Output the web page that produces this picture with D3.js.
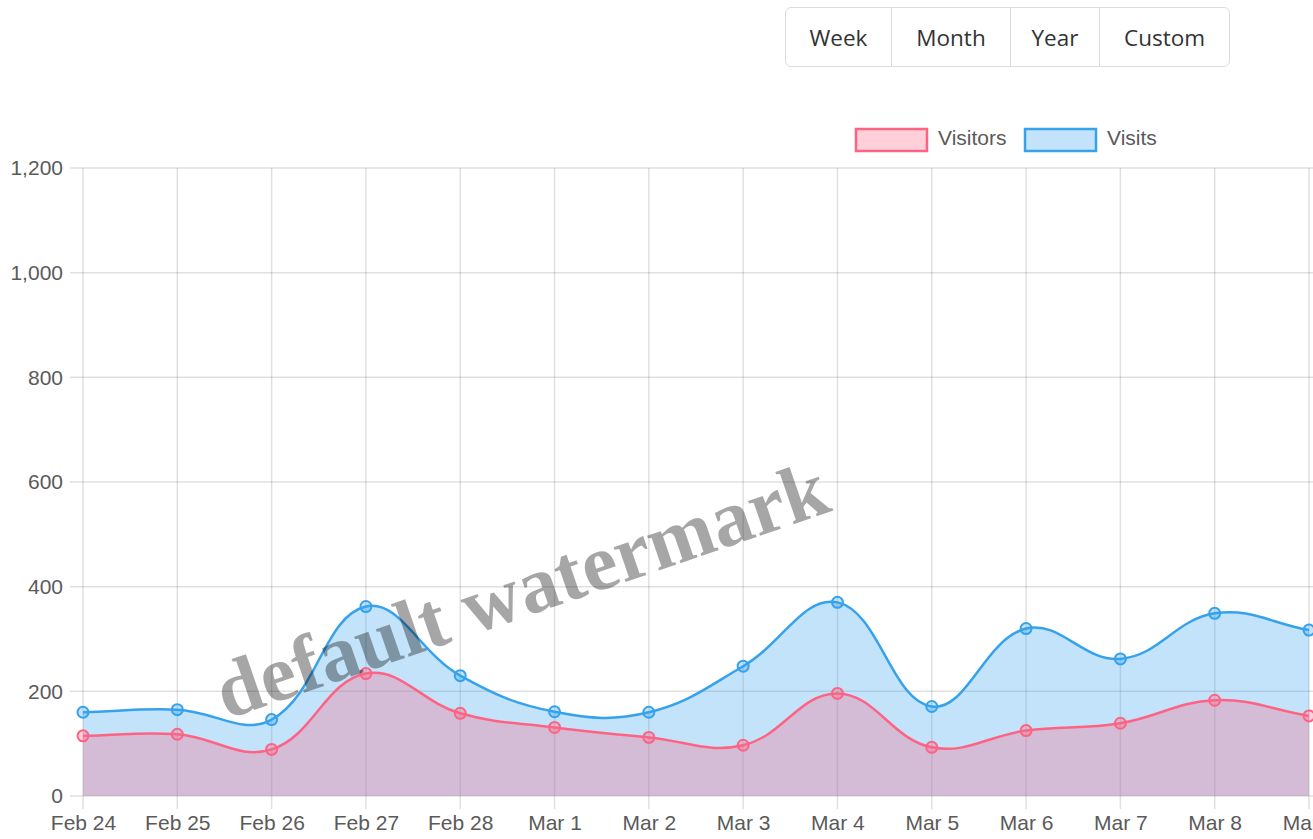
<!DOCTYPE html>
<html>
<head>
<meta charset="utf-8">
<script src="https://cdn.jsdelivr.net/npm/d3@7"></script>
<style>
  html, body { margin: 0; padding: 0; background: #fff; overflow: hidden; }
  #wrap { position: relative; width: 1313px; height: 839px; }
  svg { position: absolute; left: 0; top: 0; }
  .btn-group { position: absolute; left: 785px; top: 7px; height: 60px; display: flex;
    border: 1.5px solid #dcdcdc; border-radius: 6px; box-sizing: border-box; background: #fff; }
  .btn-group div { height: 100%; display: flex; align-items: center; justify-content: center;
    font-family: "Open Sans", "Noto Sans", sans-serif; font-size: 22.5px; color: #333;
    box-sizing: border-box; border-left: 1.5px solid #dcdcdc; }
  .btn-group div:first-child { border-left: none; }
</style>
</head>
<body>
<div id="wrap"></div>
<script>
// ---- data ----
const categories = ["Feb 24","Feb 25","Feb 26","Feb 27","Feb 28","Mar 1","Mar 2","Mar 3","Mar 4","Mar 5","Mar 6","Mar 7","Mar 8","Mar 9"];
const visitors = [115,118,89,234,158,131,112,97,196,93,125,139,183,153];
const visits   = [160,165,146,362,230,161,160,248,370,171,320,262,349,317];
const yTicks = [0,200,400,600,800,1000,1200];
const seriesNames = ["Visitors","Visits"];
const buttonLabels = ["Week","Month","Year","Custom"];
const buttonWidths = [105,119,89,130];
const watermarkText = "default watermark";

const W = 1313, H = 839;
const wrap = d3.select("#wrap");

// buttons
const bg = wrap.append("div").attr("class","btn-group");
bg.selectAll("div").data(buttonLabels).join("div")
  .style("width",(d,i)=>buttonWidths[i]+"px")
  .text(d=>d);

const svg = wrap.append("svg").attr("width",W).attr("height",H);

const x = d3.scalePoint().domain(categories).range([83, 1309]);
const y = d3.scaleLinear().domain([0,1200]).range([796, 168]);

const gridColor = "rgba(0,0,0,0.12)";
const labelColor = "#5a5a5a";
const font = "'Liberation Sans', Arial, sans-serif";

// grid
const grid = svg.append("g");
grid.selectAll("line.h").data(yTicks).join("line")
  .attr("x1",70).attr("x2",1313).attr("y1",d=>y(d)).attr("y2",d=>y(d))
  .attr("stroke",gridColor).attr("stroke-width",1.5);
grid.selectAll("line.v").data(categories).join("line")
  .attr("x1",d=>x(d)).attr("x2",d=>x(d)).attr("y1",168).attr("y2",809)
  .attr("stroke",gridColor).attr("stroke-width",1.5);

// axes labels via d3 axes
const yAxis = svg.append("g").attr("transform","translate(70,0)")
  .call(d3.axisLeft(y).tickValues(yTicks).tickSize(0).tickPadding(7).tickFormat(d3.format(",")));
yAxis.select(".domain").remove();
yAxis.selectAll("text").attr("fill",labelColor).style("font-family",font).style("font-size","21px");

const xAxis = svg.append("g").attr("transform","translate(0,809)")
  .call(d3.axisBottom(x).tickSize(0).tickPadding(6));
xAxis.select(".domain").remove();
xAxis.selectAll("text").attr("fill",labelColor).style("font-family",font).style("font-size","21px");

// Chart.js-like spline curve (tension 0.4)
function ChartJsCurve(context){ this._context = context; }
ChartJsCurve.prototype = {
  areaStart(){ this._line = 0; },
  areaEnd(){ this._line = NaN; },
  lineStart(){ this._pts = []; },
  lineEnd(){
    const p = this._pts, c = this._context, t = 0.4, n = p.length;
    if (n) {
      if (this._line) c.lineTo(p[0][0],p[0][1]); else c.moveTo(p[0][0],p[0][1]);
      const cp = p.map((pt,i)=>{
        const prev = p[i-1] || pt, next = p[i+1] || pt;
        const d01 = Math.hypot(pt[0]-prev[0], pt[1]-prev[1]);
        const d12 = Math.hypot(next[0]-pt[0], next[1]-pt[1]);
        let s01 = d01/(d01+d12), s12 = d12/(d01+d12);
        s01 = isNaN(s01)?0:s01; s12 = isNaN(s12)?0:s12;
        const fa = t*s01, fb = t*s12;
        return {
          px: pt[0]-fa*(next[0]-prev[0]), py: pt[1]-fa*(next[1]-prev[1]),
          nx: pt[0]+fb*(next[0]-prev[0]), ny: pt[1]+fb*(next[1]-prev[1])
        };
      });
      for (let i=1;i<n;i++){
        c.bezierCurveTo(cp[i-1].nx,cp[i-1].ny,cp[i].px,cp[i].py,p[i][0],p[i][1]);
      }
    }
    if (this._line || (this._line !== 0 && n === 1)) c.closePath();
    this._line = 1 - this._line;
  },
  point(px,py){ this._pts.push([+px,+py]); }
};
const chartCurve = ctx => new ChartJsCurve(ctx);

const series = [
  {name: seriesNames[1], values: visits, stroke:"rgb(54,162,235)", fill:"rgba(54,162,235,0.3)"},
  {name: seriesNames[0], values: visitors, stroke:"rgb(255,99,132)", fill:"rgba(255,99,132,0.3)"}
];

const area = d3.area().x((d,i)=>x(categories[i])).y0(y(0)).y1(d=>y(d)).curve(chartCurve);
const line = d3.line().x((d,i)=>x(categories[i])).y(d=>y(d)).curve(chartCurve);

series.forEach(s=>{
  const g = svg.append("g");
  g.append("path").attr("d",area(s.values)).attr("fill",s.fill);
  g.append("path").attr("d",line(s.values)).attr("fill","none").attr("stroke",s.stroke).attr("stroke-width",2.5);
  g.selectAll("circle").data(s.values).join("circle")
    .attr("cx",(d,i)=>x(categories[i])).attr("cy",d=>y(d)).attr("r",5.5)
    .attr("fill",s.fill).attr("stroke",s.stroke).attr("stroke-width",2);
});

// legend
const legendItems = [
  {name: seriesNames[0], stroke:"rgb(255,99,132)", fill:"rgba(255,99,132,0.3)", x:856},
  {name: seriesNames[1], stroke:"rgb(54,162,235)", fill:"rgba(54,162,235,0.3)", x:1025}
];
const lg = svg.append("g");
lg.selectAll("rect").data(legendItems).join("rect")
  .attr("x",d=>d.x).attr("y",129).attr("width",71).attr("height",22)
  .attr("fill",d=>d.fill).attr("stroke",d=>d.stroke).attr("stroke-width",2.5);
lg.selectAll("text").data(legendItems).join("text")
  .attr("x",d=>d.x+82).attr("y",138).attr("dy","0.35em")
  .attr("fill",labelColor).style("font-family",font).style("font-size","21px")
  .text(d=>d.name);

// watermark
svg.append("text")
  .attr("transform","translate(530,615) rotate(-19)")
  .attr("text-anchor","middle")
  .attr("fill","rgba(0,0,0,0.35)")
  .style("font-family","'Liberation Serif', 'Times New Roman', serif")
  .style("font-weight","bold").style("font-size","80px")
  .text(watermarkText);
</script>
</body>
</html>
